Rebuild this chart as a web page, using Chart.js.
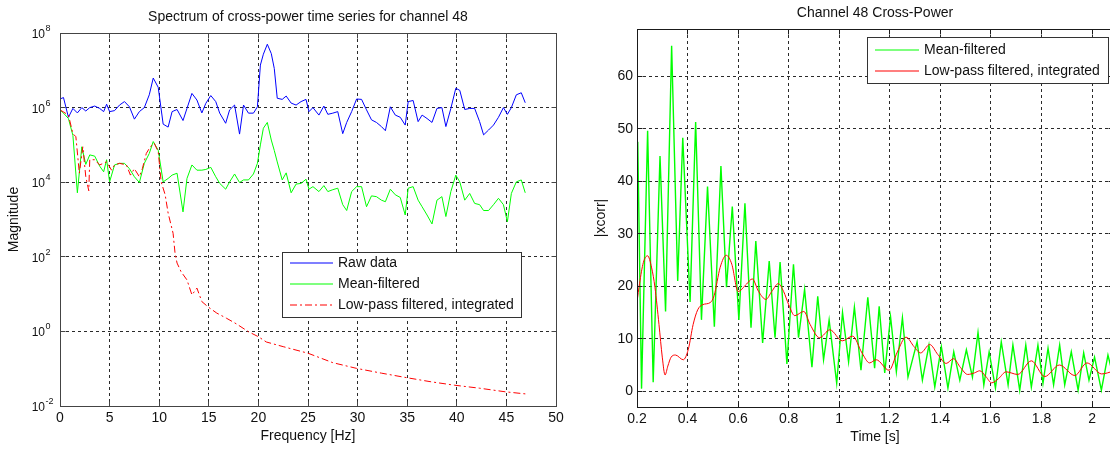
<!DOCTYPE html>
<html>
<head>
<meta charset="utf-8">
<script src="https://cdn.jsdelivr.net/npm/chart.js@4.4.1/dist/chart.umd.min.js"></script>
<style>
  html, body { margin: 0; padding: 0; background: #fff; width: 1110px; height: 450px; overflow: hidden; }
  #left { position: absolute; left: 0; top: 0; width: 570px; height: 450px; }
  #right { position: absolute; left: 570px; top: 0; width: 545px; height: 450px; }
</style>
</head>
<body>
<div id="left"><canvas id="spectrum" width="570" height="450"></canvas></div>
<div id="right"><canvas id="xcorr" width="545" height="450"></canvas></div>
<script>
// ---- left: spectrum ----
const spectrumFreqHz = [0, 0.35, 0.85, 1.3, 1.75, 2.2, 2.6, 3.0, 3.5, 4.0, 4.4, 4.7, 5.0, 5.5, 6.0, 6.5, 7.0, 7.5, 8.0, 8.5,
  9.0, 9.4, 9.9, 10.4, 10.9, 11.3, 11.8, 12.4, 12.8, 13.3, 13.8, 14.3, 14.7, 15.2, 15.7, 16.1, 16.7, 17.1, 17.6, 18.1,
  18.5, 19.0, 19.5, 19.9, 20.2, 20.5, 20.9, 21.3, 21.6, 21.9, 22.4, 22.8, 23.3, 23.8, 24.3, 24.8, 25.1, 25.5, 26.1, 26.6,
  27.0, 27.5, 28.0, 28.5, 28.9, 29.4, 29.9, 30.4, 30.9, 31.4, 31.9, 32.4, 32.8, 33.3, 33.8, 34.3, 34.8, 35.1, 35.6, 36.1,
  36.5, 37.0, 37.5, 38.0, 38.5, 38.9, 39.4, 39.9, 40.3, 40.8, 41.3, 41.8, 42.3, 42.7, 43.2, 43.7, 44.2, 44.7, 45.1, 45.5,
  46.0, 46.5, 46.9];
const rawDataMag = [1.7e6, 1.86e6, 5.5e5, 9.5e5, 7.2e5, 1.0e6, 8.1e5, 1.0e6, 1.1e6, 9.5e5, 7.8e5, 1.23e6, 7.8e5, 8.3e5, 1.17e6, 1.45e6, 1.05e6, 4.9e5, 7.8e5, 1.0e6,
  2.2e6, 6.2e6, 3.5e6, 3.6e5, 3.0e5, 7.8e5, 8.9e5, 4.5e5, 9.5e5, 2.4e6, 1.6e6, 7.2e5, 1.3e6, 2.1e6, 1.45e6, 7.1e5, 3.8e5, 8.7e5, 1.17e6, 1.95e5,
  1.17e6, 7.1e5, 7.1e5, 1.05e6, 1.38e7, 2.7e7, 5.0e7, 2.8e7, 1.12e7, 1.78e6, 1.66e6, 2.04e6, 1.32e6, 1.17e6, 1.45e6, 1.66e6, 7.8e5, 1.0e6, 6.3e5, 1.1e6,
  6.6e5, 7.1e5, 7.8e5, 2.0e5, 4.0e5, 7.8e5, 1.7e6, 1.66e6, 8.7e5, 4.7e5, 4.0e5, 3.1e5, 2.4e5, 1.05e6, 6.3e5, 5.5e5, 3.4e5, 1.45e6, 1.55e6, 4.2e5,
  6.3e5, 5.1e5, 4.0e5, 9.5e5, 1.0e6, 3.1e5, 9.5e5, 3.3e6, 2.9e6, 8.9e5, 9.5e5, 9.5e5, 4.2e5, 1.86e5, 2.5e5, 3.4e5, 5.5e5, 1.0e6, 6.6e5, 1.0e6,
  2.2e6, 2.5e6, 1.35e6];
const meanFilteredMag = [8.7e5, 7.1e5, 5.1e5, 1.8e5, 5.2e3, 8.9e4, 3.0e4, 5.4e4, 5.0e4, 2.7e4, 1.9e4, 4.0e4, 1.02e4, 2.9e4, 3.2e4, 3.2e4, 2.3e4, 1.4e4, 9.8e3, 3.2e4,
  5.9e4, 1.23e5, 7.2e4, 1.02e4, 1.26e4, 1.55e4, 1.74e4, 1.6e3, 1.26e4, 2.9e4, 2.1e4, 2.1e4, 2.2e4, 2.5e4, 1.4e4, 9.3e3, 6.5e3, 1.02e4, 1.66e4, 9.8e3,
  1.15e4, 1.15e4, 1.66e4, 3.2e4, 1.0e5, 2.8e5, 4.0e5, 1.35e5, 7.1e4, 3.5e4, 1.15e4, 1.78e4, 5.2e3, 8.9e3, 9.3e3, 1.2e4, 6.5e3, 7.6e3, 5.6e3, 8.1e3,
  5.6e3, 6.3e3, 6.9e3, 2.5e3, 1.74e3, 5.6e3, 7.6e3, 7.6e3, 2.2e3, 4.3e3, 4.1e3, 3.3e3, 3.0e3, 6.5e3, 4.6e3, 3.9e3, 1.32e3, 6.9e3, 7.6e3, 3.3e3,
  2.2e3, 1.32e3, 7.6e2, 3.3e3, 4.1e3, 1.2e3, 5.6e3, 1.55e4, 1.02e4, 3.3e3, 5.0e3, 2.7e3, 2.5e3, 1.74e3, 1.74e3, 2.5e3, 3.7e3, 2.5e3, 8.7e2, 5.0e3,
  1.02e4, 1.15e4, 5.2e3];
const lowPassFreqHz = [0, 0.85, 1.3, 1.6, 1.95, 2.3, 2.6, 2.9, 3.0, 3.5, 4.0, 4.7, 5.2, 5.5, 6.0, 6.7, 7.1, 7.5, 8.0, 8.3,
  8.7, 9.1, 9.5, 9.9, 10.2, 10.6, 10.9, 11.4, 11.6, 11.8, 12.2, 12.8, 13.3, 13.8, 14.3, 14.9, 15.8, 16.8, 17.8, 19.0,
  20.0, 20.8, 22.5, 25.0, 27.5, 29.9, 32.4, 34.7, 37.3, 39.8, 42.3, 44.9, 47.0];
const lowPassMag = [8.7e5, 6.3e5, 2.0e5, 1.66e5, 1.74e4, 8.9e4, 1.4e4, 5.9e3, 4.0e4, 4.0e4, 2.9e4, 3.5e4, 2.1e4, 2.9e4, 3.2e4, 2.9e4, 1.55e4, 2.3e4, 1.4e4, 2.3e4,
  5.9e4, 8.9e4, 1.1e5, 6.6e4, 1.02e4, 4.6e3, 1.48e3, 427, 123, 68, 40, 24, 9.5, 14.5, 6.3, 4.6, 3.1, 2.24, 1.58, 0.98,
  0.72, 0.52, 0.39, 0.26, 0.145, 0.102, 0.076, 0.059, 0.045, 0.036, 0.030, 0.024, 0.021];
const freqTicks = [0, 5, 10, 15, 20, 25, 30, 35, 40, 45, 50];
const freqTickLabels = ['0', '5', '10', '15', '20', '25', '30', '35', '40', '45', '50'];
const magnitudeTicks = [1e-2, 1, 1e2, 1e4, 1e6, 1e8];
const magnitudeExponents = ['-2', '0', '2', '4', '6', '8'];

// ---- right: cross-power over time ----
const meanFilteredTime = [0.2, 0.203, 0.218, 0.242, 0.264, 0.291, 0.313, 0.337, 0.361, 0.381, 0.41, 0.432, 0.455, 0.479, 0.506, 0.532, 0.554, 0.577, 0.603, 0.627,
  0.651, 0.67, 0.697, 0.723, 0.746, 0.766, 0.793, 0.819, 0.839, 0.863, 0.892, 0.915, 0.938, 0.96, 0.99, 1.013, 1.037, 1.06, 1.086, 1.113,
  1.14, 1.158, 1.18, 1.203, 1.226, 1.25, 1.272, 1.308, 1.329, 1.355, 1.378, 1.404, 1.43, 1.453, 1.477, 1.503, 1.527, 1.549, 1.572, 1.593,
  1.618, 1.641, 1.668, 1.687, 1.714, 1.738, 1.76, 1.786, 1.806, 1.826, 1.848, 1.872, 1.892, 1.918, 1.945, 1.967, 1.988, 2.01, 2.037, 2.063,
  2.083];
const meanFilteredXcorr = [40, 47.5, 0.5, 49.6, 1.7, 44.8, 15.2, 65.8, 21, 48.3, 17, 51.3, 13.6, 39, 12.3, 42.9, 19.8, 35.2, 13.6, 35.8,
  12.1, 28.6, 9.2, 24.8, 10.2, 24.6, 5.2, 24.2, 10.2, 19.4, 4.6, 18.1, 6, 13.6, 1.5, 15, 5.6, 16, 4, 17.9,
  4.4, 16.2, 3.5, 14.2, 3.7, 14, 2.7, 9.4, 2.1, 8.8, 0.8, 8.5, 0.6, 7.5, 2.1, 7.9, 2.7, 11.2, 1.2, 7.5,
  0.6, 9.4, 1.2, 8.8, 0.2, 8.8, 0.8, 8.8, 1.5, 8.2, 1.2, 8.8, 1.2, 7.5, 0.2, 7.3, 2.1, 6.5, 0.2, 6.9,
  3];
const lowPassTime = [0.2, 0.21, 0.225, 0.242, 0.258, 0.271, 0.287, 0.3, 0.311, 0.322, 0.335, 0.352, 0.383, 0.403, 0.422, 0.44, 0.46, 0.49, 0.505, 0.529,
  0.553, 0.575, 0.6, 0.633, 0.656, 0.681, 0.71, 0.733, 0.759, 0.78, 0.8, 0.824, 0.86, 0.885, 0.922, 0.963, 1.012, 1.053, 1.09, 1.12,
  1.146, 1.197, 1.23, 1.264, 1.296, 1.322, 1.358, 1.39, 1.423, 1.452, 1.48, 1.508, 1.535, 1.556, 1.58, 1.603, 1.63, 1.66, 1.706, 1.76,
  1.813, 1.871, 1.932, 1.98, 2.038, 2.083];
const lowPassXcorr = [17, 20.5, 24.5, 25.8, 23.5, 19.8, 12.7, 6.5, 3.1, 4.8, 6.5, 6.9, 6.0, 8.0, 12.7, 15.5, 16.5, 16.9, 18.2, 23.6,
  25.9, 24.2, 19, 20.4, 21.4, 19, 17.5, 19, 20.5, 19, 16.5, 14.4, 15.2, 12.7, 10.2, 11.7, 9.6, 10.5, 7.3, 5.4,
  6, 4, 7.5, 10.3, 8.5, 7.3, 8.9, 7, 5.3, 6.2, 4.5, 3.2, 3.5, 3.9, 2.8, 1.6, 2.4, 3.7, 3.2, 5.8,
  2.8, 5, 3, 5.4, 3.3, 3.8];
const timeTicks = [0.2, 0.4, 0.6, 0.8, 1, 1.2, 1.4, 1.6, 1.8, 2];
const timeTickLabels = ['0.2', '0.4', '0.6', '0.8', '1', '1.2', '1.4', '1.6', '1.8', '2'];
const xcorrTicks = [0, 10, 20, 30, 40, 50, 60];
const xcorrTickLabels = ['0', '10', '20', '30', '40', '50', '60'];

const FONT = '"Liberation Sans", Arial, Helvetica, sans-serif';
const TEXT = '#111';
Chart.defaults.font.family = FONT;
Chart.defaults.font.size = 14;
Chart.defaults.color = TEXT;

const pairs = (xs, ys) => xs.map((x, i) => ({ x: x, y: ys[i] }));
const px = v => Math.round(v - 0.5) + 0.5;

// MATLAB-like axes box, inward ticks, title and legend
function framePlugin(cfg) {
  return {
    id: 'frame',
    afterDraw(chart) {
      const { ctx, chartArea: a, scales } = chart;
      const L = px(a.left), R = px(a.right), T = px(a.top), B = px(a.bottom);
      ctx.save();
      ctx.setLineDash([]);
      ctx.lineWidth = 1;
      ctx.strokeStyle = cfg.boxColor;
      ctx.beginPath();
      scales.x.ticks.forEach(t => {
        const x = px(scales.x.getPixelForValue(t.value));
        ctx.moveTo(x, B); ctx.lineTo(x, B - 5);
        ctx.moveTo(x, T); ctx.lineTo(x, T + 5);
      });
      scales.y.ticks.forEach(t => {
        const y = px(scales.y.getPixelForValue(t.value));
        ctx.moveTo(L, y); ctx.lineTo(L + 5, y);
        ctx.moveTo(R, y); ctx.lineTo(R - 5, y);
      });
      ctx.stroke();
      ctx.strokeRect(L, T, R - L, B - T);

      // log tick labels with superscript exponents
      if (cfg.logLabels) {
        ctx.fillStyle = TEXT;
        magnitudeTicks.forEach((v, i) => {
          const y = scales.y.getPixelForValue(v);
          ctx.font = '12px ' + FONT;
          ctx.textAlign = 'right';
          ctx.textBaseline = 'alphabetic';
          ctx.fillText('10', 45, y + 5);
          ctx.font = '9px ' + FONT;
          ctx.textAlign = 'left';
          ctx.fillText(magnitudeExponents[i], 45.5, y - 2);
        });
      }

      // title
      ctx.fillStyle = TEXT;
      ctx.font = '14px ' + FONT;
      ctx.textAlign = 'center';
      ctx.textBaseline = 'middle';
      ctx.fillText(cfg.title, (a.left + a.right) / 2, cfg.titleY);

      // legend
      const lg = cfg.legend;
      ctx.fillStyle = '#fff';
      ctx.fillRect(lg.x, lg.y, lg.w, lg.h);
      ctx.strokeStyle = '#333';
      ctx.strokeRect(lg.x + 0.5, lg.y + 0.5, lg.w, lg.h);
      chart.data.datasets.forEach((ds, i) => {
        const y = Math.round(lg.y + lg.firstRow + i * lg.rowStep);
        ctx.strokeStyle = ds.borderColor;
        ctx.lineWidth = 1.2;
        ctx.setLineDash(ds.borderDash || []);
        ctx.beginPath();
        ctx.moveTo(lg.x + lg.lineFrom, y);
        ctx.lineTo(lg.x + lg.lineTo, y);
        ctx.stroke();
        ctx.setLineDash([]);
        ctx.fillStyle = TEXT;
        ctx.textAlign = 'left';
        ctx.textBaseline = 'middle';
        ctx.fillText(ds.label, lg.x + lg.textX, y);
      });
      ctx.restore();
    }
  };
}

const gridStyle = { color: '#2a2a2a', lineWidth: 1, drawTicks: false };
const gridBorder = { display: false, dash: [3, 3] };

new Chart(document.getElementById('spectrum'), {
  type: 'line',
  data: {
    datasets: [
      { label: 'Raw data', data: pairs(spectrumFreqHz, rawDataMag), borderColor: '#0000ff', borderWidth: 1, pointRadius: 0, order: 3 },
      { label: 'Mean-filtered', data: pairs(spectrumFreqHz, meanFilteredMag), borderColor: '#00ff00', borderWidth: 1, pointRadius: 0, order: 2 },
      { label: 'Low-pass filtered, integrated', data: pairs(lowPassFreqHz, lowPassMag), borderColor: '#ff0000', borderWidth: 1, pointRadius: 0, borderDash: [7, 3, 2, 3], order: 1 }
    ]
  },
  options: {
    responsive: false,
    animation: false,
    devicePixelRatio: 1,
    layout: { padding: { top: 33, right: 14, left: 0, bottom: 0 } },
    plugins: { legend: { display: false }, title: { display: false }, tooltip: { enabled: false } },
    scales: {
      x: {
        type: 'linear', min: 0, max: 50,
        afterBuildTicks: s => { s.ticks = freqTicks.map(v => ({ value: v })); },
        afterFit: s => { s.height = 44; },
        grid: gridStyle, border: gridBorder,
        ticks: { padding: 4, maxRotation: 0, autoSkip: false, callback: (v, i) => freqTickLabels[i] },
        title: { display: true, text: 'Frequency [Hz]', padding: { top: 0, bottom: 5 } }
      },
      y: {
        type: 'logarithmic', min: 1e-2, max: 1e8,
        afterBuildTicks: s => { s.ticks = magnitudeTicks.map(v => ({ value: v })); },
        afterFit: s => { s.width = 60; },
        grid: gridStyle, border: gridBorder,
        ticks: { display: false },
        title: { display: true, text: 'Magnitude', padding: { top: 6, bottom: 0 } }
      }
    }
  },
  plugins: [framePlugin({
    boxColor: '#444', title: 'Spectrum of cross-power time series for channel 48', titleY: 17, logLabels: true,
    legend: { x: 282, y: 252, w: 239, h: 65, firstRow: 11, rowStep: 21, lineFrom: 8, lineTo: 51, textX: 56 }
  })]
});

new Chart(document.getElementById('xcorr'), {
  type: 'line',
  data: {
    datasets: [
      { label: 'Mean-filtered', data: pairs(meanFilteredTime, meanFilteredXcorr), borderColor: '#00ff00', borderWidth: 1.4, pointRadius: 0, order: 2 },
      { label: 'Low-pass filtered, integrated', data: pairs(lowPassTime, lowPassXcorr), borderColor: '#ff0000', borderWidth: 1, pointRadius: 0, cubicInterpolationMode: 'monotone', order: 1 }
    ]
  },
  options: {
    responsive: false,
    animation: false,
    devicePixelRatio: 1,
    layout: { padding: { top: 29, right: 2, left: 0, bottom: 0 } },
    plugins: { legend: { display: false }, title: { display: false }, tooltip: { enabled: false } },
    scales: {
      x: {
        type: 'linear', min: 0.2, max: 2.083,
        afterBuildTicks: s => { s.ticks = timeTicks.map(v => ({ value: v })); },
        afterFit: s => { s.height = 43; },
        grid: gridStyle, border: gridBorder,
        ticks: { padding: 4, maxRotation: 0, autoSkip: false, callback: (v, i) => timeTickLabels[i] },
        title: { display: true, text: 'Time [s]', padding: { top: 0, bottom: 4 } }
      },
      y: {
        type: 'linear', min: -3, max: 69,
        afterBuildTicks: s => { s.ticks = xcorrTicks.map(v => ({ value: v })); },
        afterFit: s => { s.width = 67; },
        grid: gridStyle, border: gridBorder,
        ticks: { padding: 4, autoSkip: false, callback: (v, i) => xcorrTickLabels[i] },
        title: { display: true, text: '|xcorr|', padding: { top: 23, bottom: 0 } }
      }
    }
  },
  plugins: [framePlugin({
    boxColor: '#1a1a1a', title: 'Channel 48 Cross-Power', titleY: 13, logLabels: false,
    legend: { x: 297, y: 37, w: 241, h: 46, firstRow: 13, rowStep: 21, lineFrom: 8, lineTo: 52, textX: 57 }
  })]
});
</script>
</body>
</html>
